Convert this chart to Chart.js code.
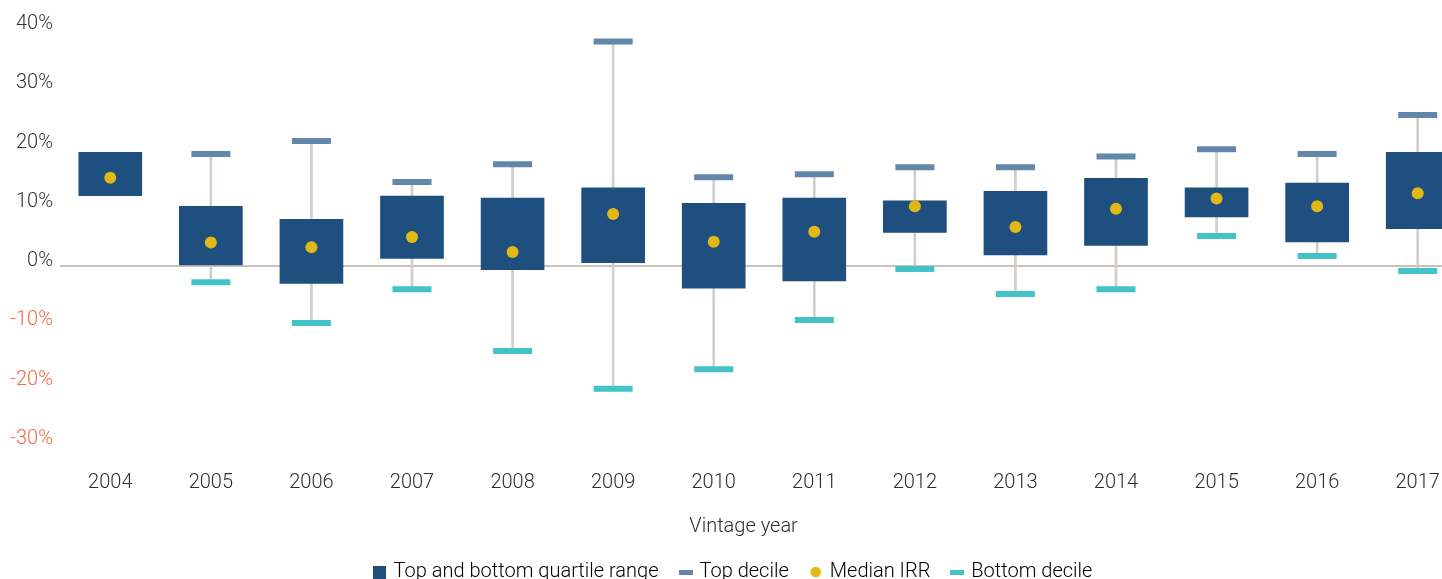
<!DOCTYPE html>
<html>
<head>
<meta charset="utf-8">
<script src="https://cdn.jsdelivr.net/npm/chart.js@4"></script>
<style>
	html, body { margin: 0; padding: 0; background: #fff; overflow: hidden; }
	#wrap { width: 1470px; height: 600px; position: relative; }
	canvas { position: absolute; left: 0; top: 0; }
</style>
</head>
<body>
<div id="wrap"><canvas id="chart" width="1470" height="600"></canvas></div>
<script>
// Vintage year IRR spread (values in %)

const years = ["2004", "2005", "2006", "2007", "2008", "2009", "2010", "2011", "2012", "2013", "2014", "2015", "2016", "2017"];
const bottomQuartile = [11.9, 0.2, -2.9, 1.3, -0.6, 0.6, -3.7, -2.5, 5.7, 1.9, 3.5, 8.3, 4.1, 6.3];
const topQuartile = [19.2, 10.1, 7.9, 11.8, 11.5, 13.2, 10.6, 11.5, 11.0, 12.6, 14.8, 13.2, 14.0, 19.2];
const medianIRR = [14.9, 4.0, 3.2, 4.9, 2.4, 8.8, 4.1, 5.8, 10.1, 6.6, 9.7, 11.4, 10.1, 12.3];
const topDecile = [null, 18.9, 21.1, 14.2, 17.2, 37.9, 15.0, 15.5, 16.7, 16.7, 18.5, 19.7, 18.9, 25.5];
const bottomDecile = [null, -2.7, -9.6, -3.9, -14.3, -20.7, -17.4, -9.1, -0.5, -4.7, -3.9, 5.1, 1.7, -0.8];
const yTicks = [-30, -20, -10, 0, 10, 20, 30, 40];

const boxColor = "#1f4f7e";
const topColor = "#6287aa";
const bottomColor = "#43c3c7";
const medianColor = "#e2b815";
const whiskerColor = "#d3cec8";
const textColor = "#2e2e2e";
const fontFamily = "Roboto, 'Noto Sans', sans-serif";

// little canvases used as legend markers
const makeIcon = (w, h, draw) => {
	const c = document.createElement("canvas");
	c.width = w;
	c.height = h;
	draw(c.getContext("2d"));
	return c;
};
const iconBox = makeIcon(13, 13, (g) => {
	g.fillStyle = boxColor;
	g.fillRect(0, 0, 13, 13);
});
const iconTop = makeIcon(14, 5, (g) => {
	g.fillStyle = topColor;
	g.fillRect(0, 0, 14, 5);
});
const iconBottom = makeIcon(14, 5, (g) => {
	g.fillStyle = bottomColor;
	g.fillRect(0, 0, 14, 5);
});
const iconMedian = makeIcon(12, 12, (g) => {
	g.fillStyle = medianColor;
	g.beginPath();
	g.arc(6, 6, 5.3, 0, Math.PI * 2);
	g.fill();
});

const ctx = document.getElementById("chart").getContext("2d");
const chart = new Chart(ctx, {
	type: "bar",
	data: {
		labels: years,
		datasets: [
			{
				label: "Median IRR",
				type: "line",
				data: medianIRR,
				showLine: false,
				pointRadius: 6,
				pointHoverRadius: 6,
				pointBackgroundColor: medianColor,
				pointBorderWidth: 0,
				order: 0,
			},
			{
				label: "Top decile",
				type: "line",
				data: topDecile,
				showLine: false,
				pointStyle: "line",
				pointRadius: 19.5,
				pointHoverRadius: 19.5,
				pointBorderColor: topColor,
				pointBorderWidth: 6,
				order: 1,
			},
			{
				label: "Bottom decile",
				type: "line",
				data: bottomDecile,
				showLine: false,
				pointStyle: "line",
				pointRadius: 19.5,
				pointHoverRadius: 19.5,
				pointBorderColor: bottomColor,
				pointBorderWidth: 6,
				order: 1,
			},
			{
				label: "Top and bottom quartile range",
				data: years.map((y, i) => [bottomQuartile[i], topQuartile[i]]),
				backgroundColor: boxColor,
				barThickness: 63,
				grouped: false,
				order: 2,
			},
			{
				label: "whisker",
				data: years.map((y, i) => (topDecile[i] === null ? null : [bottomDecile[i], topDecile[i]])),
				backgroundColor: whiskerColor,
				barThickness: 2,
				grouped: false,
				order: 3,
			},
		],
	},
	options: {
		responsive: false,
		animation: false,
		layout: {
			autoPadding: false,
			padding: { top: 29, right: 2, bottom: 8, left: 0 },
		},
		plugins: {
			tooltip: { enabled: false },
			legend: {
				position: "bottom",
				labels: {
					usePointStyle: true,
					boxWidth: 8,
					boxHeight: 14,
					padding: 23,
					color: textColor,
					font: { family: fontFamily, size: 20, weight: 300 },
					generateLabels: () => [
						{ text: "Top and bottom quartile range", pointStyle: iconBox, fillStyle: boxColor, strokeStyle: boxColor, lineWidth: 0 },
						{ text: "Top decile", pointStyle: iconTop, fillStyle: topColor, strokeStyle: topColor, lineWidth: 0 },
						{ text: "Median IRR", pointStyle: iconMedian, fillStyle: medianColor, strokeStyle: medianColor, lineWidth: 0 },
						{ text: "Bottom decile", pointStyle: iconBottom, fillStyle: bottomColor, strokeStyle: bottomColor, lineWidth: 0 },
					],
				},
			},
		},
		scales: {
			x: {
				grid: { display: false, drawTicks: false },
				border: { display: false },
				// the last category runs past the right edge, as in the original
				afterFit: (axis) => {
					axis.paddingLeft = 0;
					axis.paddingRight = 0;
				},
				ticks: {
					padding: 27,
					color: textColor,
					font: { family: fontFamily, size: 20, weight: 300 },
				},
				title: {
					display: true,
					text: "Vintage year\u2003\u2003",
					color: textColor,
					padding: { top: -7, bottom: 0 },
					font: { family: fontFamily, size: 20, weight: 300 },
				},
			},
			y: {
				min: -30,
				max: 40,
				afterBuildTicks: (axis) => {
					axis.ticks = yTicks.map((v) => ({ value: v }));
				},
				afterFit: (axis) => {
					axis.width = 60;
				},
				border: { display: false },
				grid: {
					drawTicks: false,
					lineWidth: 2,
					color: (c) => (c.tick && c.tick.value === 0 ? "#c9c2ba" : "rgba(0,0,0,0)"),
				},
				ticks: {
					padding: 7,
					font: { family: fontFamily, size: 20, weight: 300, lineHeight: 0.5 },
					color: (c) => (c.tick.value < 0 ? "#f26a45" : "#333333"),
					// second empty line lifts the label a little above its tick
					callback: (v) => [v + "%", ""],
				},
			},
		},
	},
});
</script>
</body>
</html>
